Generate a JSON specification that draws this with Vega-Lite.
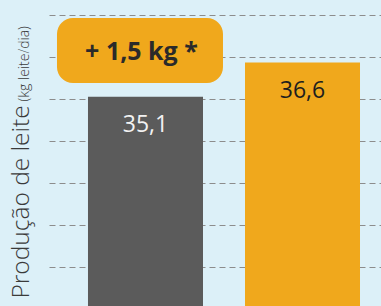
{
  "$schema": "https://vega.github.io/schema/vega-lite/v6.json",
  "autosize": "none",
  "width": 332,
  "height": 306,
  "padding": {"left": 49, "top": 0, "right": 0, "bottom": 0},
  "background": "#dcf0f8",
  "config": {
    "view": {"stroke": null},
    "font": "Open Sans",
    "locale": {"number": {"decimal": ",", "thousands": ".", "grouping": [3], "currency": ["", ""]}}
  },
  "datasets": {
    "bars": [
      {"group": "Controle", "value": 35.1},
      {"group": "Tratamento", "value": 36.6}
    ],
    "note": [
      {"group": "Controle", "label": "+ 1,5 kg *", "lo": 35.7, "hi": 38.56, "mid": 36.71}
    ]
  },
  "layer": [
    {
      "data": {"name": "bars"},
      "mark": {"type": "bar"},
      "encoding": {
        "x": {
          "field": "group", "type": "nominal", "axis": null,
          "scale": {"paddingInner": 0.2675, "paddingOuter": 0.191, "align": 0.65}
        },
        "y": {
          "field": "value", "type": "quantitative",
          "scale": {"domain": [25.9, 39.35], "zero": false, "nice": false, "clamp": true},
          "axis": {
            "orient": "left",
            "values": [27.61, 29.46, 31.31, 33.15, 35.0, 36.84, 38.69],
            "labels": false, "ticks": false, "domain": false,
            "grid": true, "gridDash": [6, 4], "gridColor": "#8c8c8c", "gridWidth": 1,
            "title": "Produção de leite",
            "titleFont": "Open Sans", "titleFontSize": 24.5, "titleFontWeight": 300,
            "titleColor": "#3a3a3a", "titleAngle": 270,
            "titleX": -21, "titleY": 298, "titleAlign": "left", "titleBaseline": "alphabetic"
          }
        },
        "color": {
          "field": "group", "type": "nominal", "legend": null,
          "scale": {"range": ["#5b5b5b", "#f0a81c"]}
        }
      }
    },
    {
      "data": {"name": "bars"},
      "mark": {"type": "text", "dy": 35, "baseline": "alphabetic", "fontSize": 23, "font": "Open Sans"},
      "encoding": {
        "x": {"field": "group", "type": "nominal", "axis": null},
        "y": {
          "field": "value", "type": "quantitative",
          "axis": {
            "orient": "left",
            "labels": false, "ticks": false, "domain": false, "grid": false,
            "title": "(kg leite/dia)",
            "titleFont": "Open Sans", "titleFontSize": 14, "titleFontWeight": 300,
            "titleColor": "#3a3a3a", "titleAngle": 270,
            "titleX": -21, "titleY": 101, "titleAlign": "left", "titleBaseline": "alphabetic"
          }
        },
        "text": {"field": "value", "type": "quantitative", "format": ".1f"},
        "color": {
          "condition": {"test": "datum.group === 'Controle'", "value": "#f2f2f2"},
          "value": "#1e1e1e"
        }
      }
    },
    {
      "data": {"name": "note"},
      "mark": {"type": "bar", "width": 166, "xOffset": -5.5, "cornerRadius": 16, "color": "#f0a81c"},
      "encoding": {
        "x": {"field": "group", "type": "nominal", "axis": null},
        "y": {"field": "hi", "type": "quantitative", "axis": null},
        "y2": {"field": "lo"}
      }
    },
    {
      "data": {"name": "note"},
      "mark": {"type": "text", "xOffset": -4, "baseline": "alphabetic", "fontSize": 25, "fontWeight": "bold", "font": "Open Sans", "color": "#2a2a2a"},
      "encoding": {
        "x": {"field": "group", "type": "nominal", "axis": null},
        "y": {"field": "mid", "type": "quantitative", "axis": null},
        "text": {"field": "label"}
      }
    }
  ],
  "resolve": {"axis": {"y": "independent"}}
}
